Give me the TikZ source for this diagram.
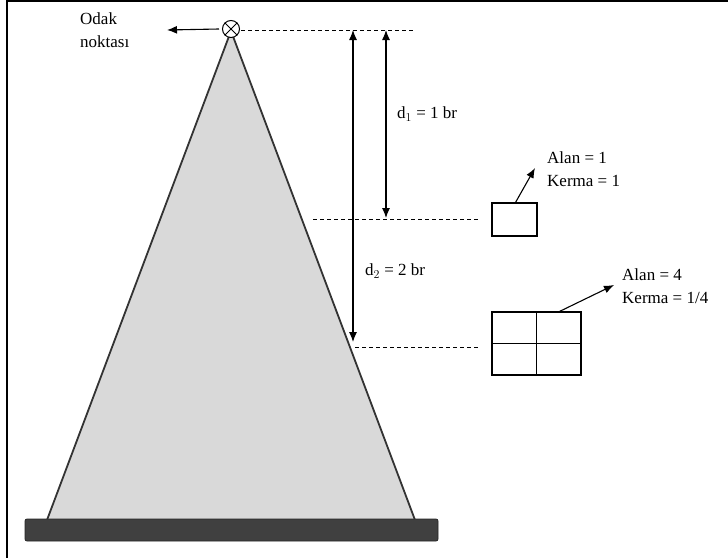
\documentclass[tikz,border=0pt]{standalone}
\usepackage{fontspec}
\setmainfont{Liberation Serif}
\usetikzlibrary{arrows.meta}
\begin{document}
\begin{tikzpicture}[x=1pt,y=-1pt,
  lbl/.style={font=\fontsize{17}{22.5}\selectfont, inner sep=0pt, anchor=west, align=left},
  arr/.style={-{Latex[length=10pt,width=8pt]}, line width=1.1pt},
  darr/.style={{Latex[length=10pt,width=8pt]}-{Latex[length=10pt,width=8pt]}, line width=1.1pt},
  dsh/.style={dashed, dash pattern=on 4pt off 3pt, line width=0.9pt},
  box/.style={draw, line width=1.1pt, fill=white, inner sep=0pt}]
\useasboundingbox (0,0) rectangle (728,557);
% frame
\draw[line width=2pt] (7,558) -- (7,1) -- (729,1);
% cone
\coordinate (apex) at (231,31);
\coordinate (bl) at (47,520);
\coordinate (br) at (415,520);
\fill[gray!30] (apex) -- (bl) -- (br) -- cycle;
\draw[line width=1.8pt, black!80] (bl) -- (apex) -- (br);
% base
\node[draw=black!85, fill=black!75, rounded corners=2pt, line width=0.8pt,
      minimum width=413pt, minimum height=22pt, inner sep=0pt] (base) at (231.5,530) {};
% focus
\node[circle, draw, fill=white, minimum size=17pt, inner sep=0pt, line width=1pt] (focus) at (231,29) {};
\draw[line width=1pt] (focus.north west) -- (focus.south east) (focus.north east) -- (focus.south west);
% odak label
\node[lbl] (odak) at (80,30) {Odak\\noktası};
\coordinate (odakend) at (167,30);
\draw[arr] ([xshift=-3pt]focus.west) -- (odakend);
% dashed levels
\coordinate (t0) at (241,30);
\coordinate (t1) at (415,30);
\coordinate (m0) at (313,219);
\coordinate (m1) at (478,219);
\coordinate (b0) at (355,347);
\coordinate (b1) at (478,347);
\draw[dsh] (t0) -- (t1);
\draw[dsh] (m0) -- (m1);
\draw[dsh] (b0) -- (b1);
% dimension arrows
\coordinate (d2top) at (353,30);
\coordinate (d2bot) at (353,342);
\coordinate (d1top) at (386,30);
\coordinate (d1bot) at (386,218);
\draw[darr] (d2top) -- (d2bot);
\draw[darr] (d1top) -- (d1bot);
\node[lbl] (d1) at (397,114) {d$_1$ = 1 br};
\node[lbl] (d2) at (365,271) {d$_2$ = 2 br};
% small box
\node[box, minimum width=45pt, minimum height=33pt] (sbox) at (514.5,219.5) {};
\node[lbl] (st) at (547,169) {Alan = 1\\Kerma = 1};
\coordinate (sarr) at (535,168);
\draw[arr] ([xshift=1pt]sbox.north) -- (sarr);
% large box
\node[box, minimum width=89pt, minimum height=63pt] (lbox) at (536.5,343.5) {};
\draw[line width=1.1pt] (lbox.north) -- (lbox.south) (lbox.west) -- (lbox.east);
\node[lbl] (lt) at (622,286) {Alan = 4\\Kerma = 1/4};
\coordinate (larr) at (614,285);
\draw[arr] ([xshift=23pt]lbox.north) -- (larr);
\end{tikzpicture}
\end{document}
